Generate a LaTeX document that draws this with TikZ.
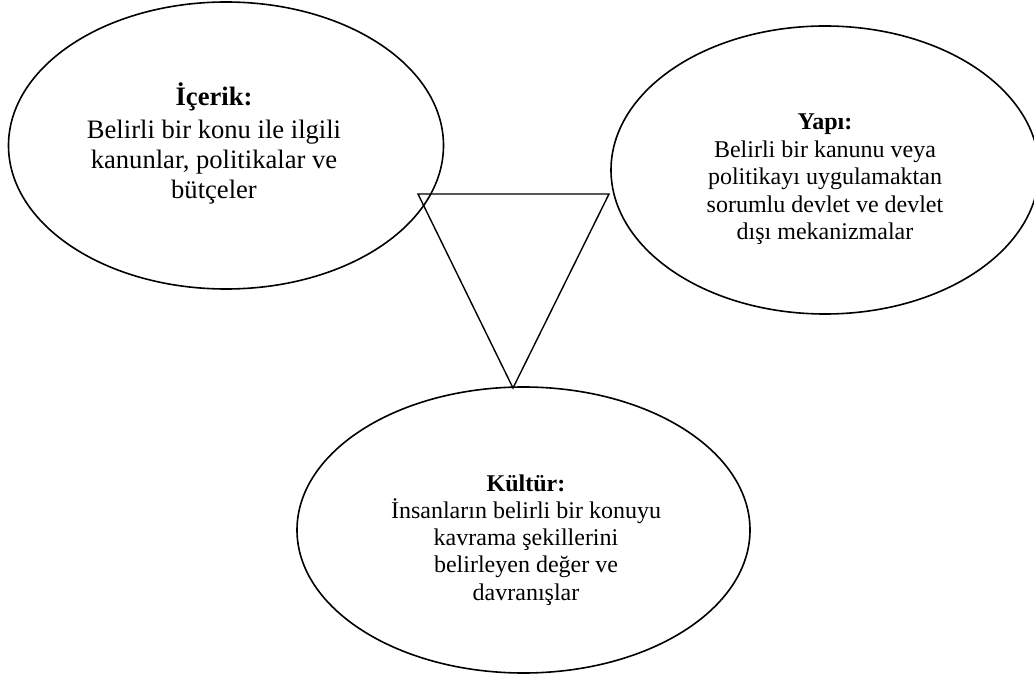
\documentclass[tikz,border=0pt]{standalone}
\usepackage{fontspec}
\setmainfont{Liberation Serif}
\usetikzlibrary{shapes.geometric}
\begin{document}
\begin{tikzpicture}[x=0.5pt,y=-0.5pt,
  oval/.style={draw,ellipse,line width=0.8pt,inner sep=0pt},
  label/.style={align=center,inner sep=0pt,anchor=base}]
\useasboundingbox (0,0) rectangle (1034,679);
\node[oval,minimum width=217.5pt,minimum height=143.5pt] (icerik) at (226,145.5) {};
\node[oval,minimum width=214pt,minimum height=144pt] (yapi) at (825,170) {};
\node[oval,minimum width=226.5pt,minimum height=143pt] (kultur) at (523.5,530) {};
\coordinate (t1) at (418,194);
\coordinate (t2) at (609,194);
\coordinate (t3) at (513,388);
\draw[line width=0.7pt] (t1) -- (t2) -- (t3) -- cycle;
\node[label,font=\fontsize{13.3}{15}\selectfont] (ticerik) at (214,199)
  {\textbf{İçerik:}\\[1.5pt] Belirli bir konu ile ilgili\\ kanunlar, politikalar ve\\ bütçeler};
\node[label,font=\fontsize{12}{13.75}\selectfont] (tyapi) at (825,240)
  {\textbf{Yapı:}\\ Belirli bir kanunu veya\\ politikayı uygulamaktan\\ sorumlu devlet ve devlet\\ dışı mekanizmalar};
\node[label,font=\fontsize{12}{13.6}\selectfont] (tkultur) at (526,600)
  {\textbf{Kültür:}\\ İnsanların belirli bir konuyu\\ kavrama şekillerini\\ belirleyen değer ve\\ davranışlar};
\end{tikzpicture}
\end{document}
